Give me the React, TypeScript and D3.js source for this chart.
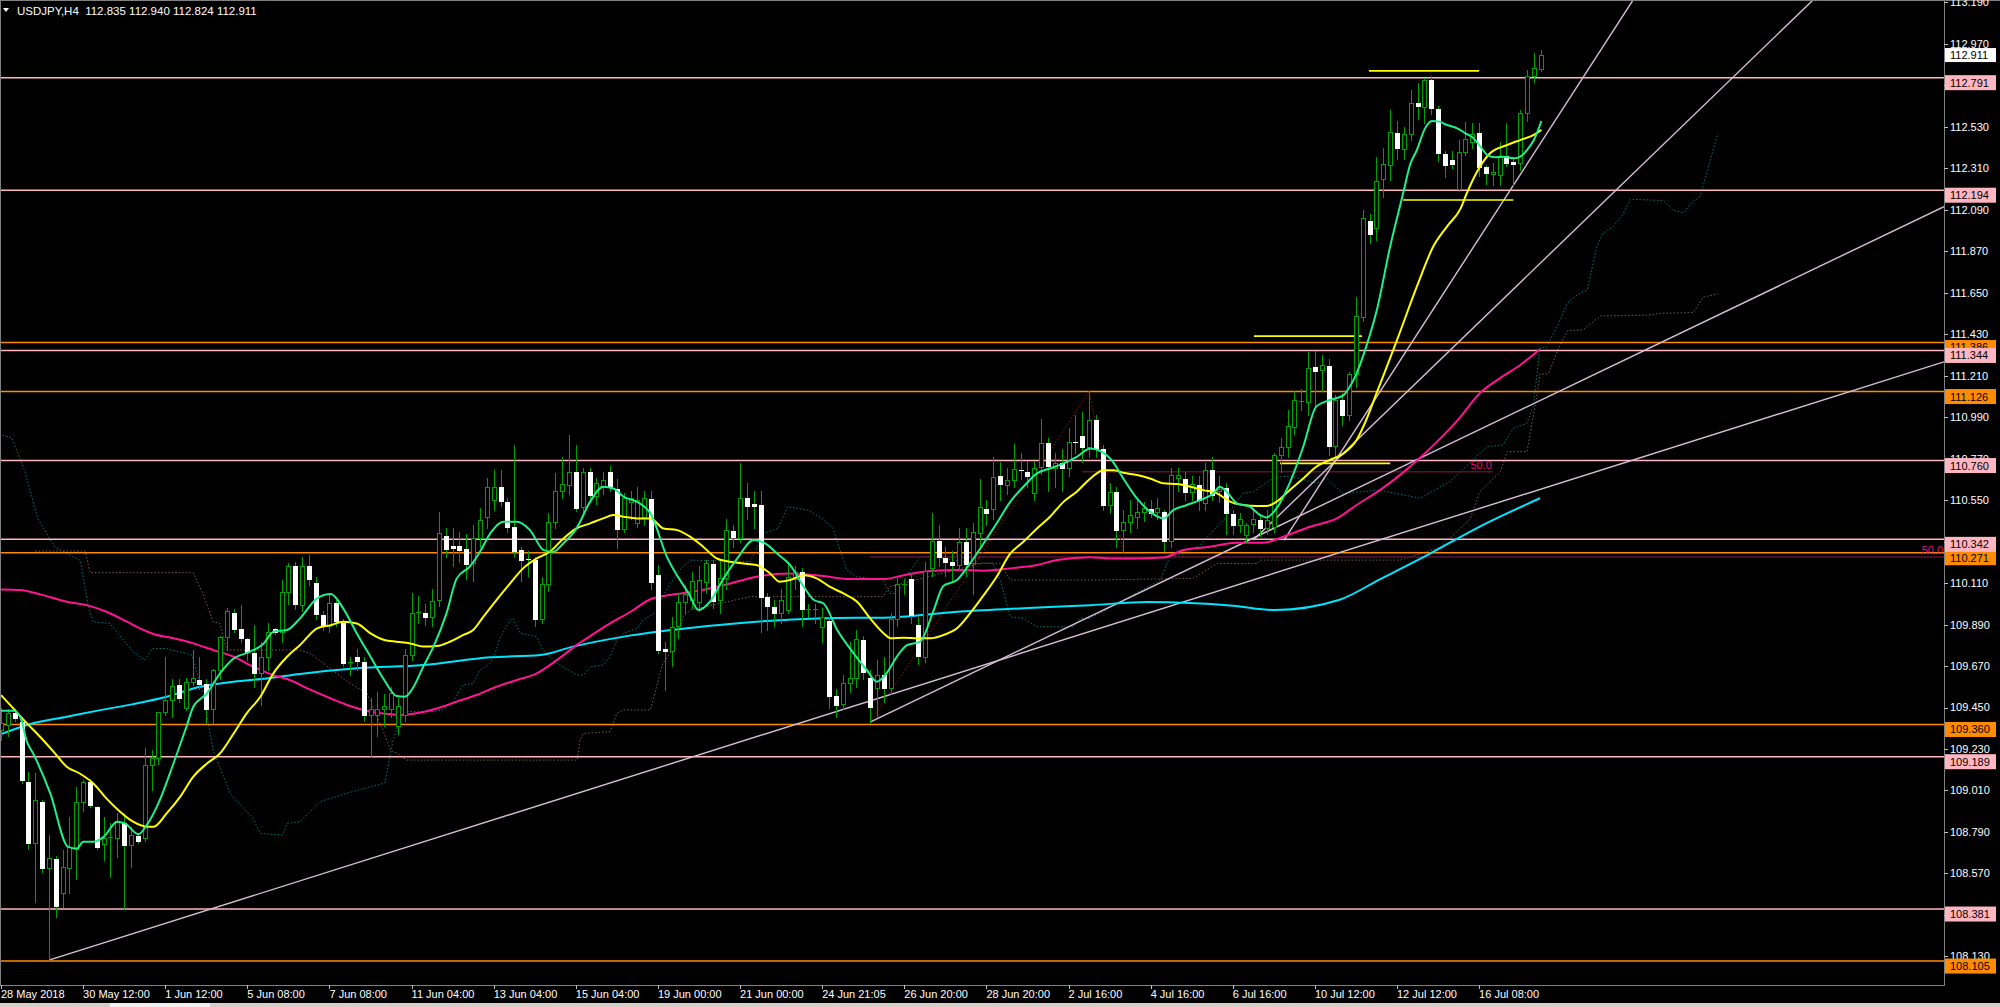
import React from 'react';
import * as d3 from 'd3';

const W = 2000;
const H = 1007;
const PLOT_R = 1944;
const PLOT_B = 985;

const opens = [
  109.33, 109.357, 109.419, 109.375, 109.056, 108.729, 108.95, 108.597, 108.646, 108.464,
  108.597, 108.7, 108.95, 109.056, 108.924, 108.726, 108.756, 108.756, 108.835, 108.72,
  108.77, 108.756, 109.145, 109.18, 109.428, 109.49, 109.569, 109.445, 109.587, 109.596,
  109.573, 109.442, 109.649, 109.822, 109.953, 109.866, 109.813, 109.737, 109.631, 109.716,
  109.864, 109.852, 110.064, 110.2, 109.994, 110.2, 110.108, 109.94, 109.884, 110.006,
  109.9, 109.69, 109.72, 109.693, 109.41, 109.41, 109.44, 109.44, 109.35, 109.41,
  109.728, 109.955, 109.953, 109.928, 110.02, 110.359, 110.308, 110.308, 110.289, 110.215,
  110.347, 110.462, 110.55, 110.621, 110.542, 110.406, 110.285, 110.236, 110.232, 109.917,
  110.103, 110.436, 110.596, 110.63, 110.697, 110.512, 110.697, 110.57, 110.627, 110.701,
  110.609, 110.397, 110.54, 110.43, 110.46, 110.556, 110.153, 109.758, 109.75, 109.881,
  110.01, 110.02, 110.011, 110.117, 110.209, 110.02, 110.135, 110.388, 110.347, 110.559,
  110.527, 110.524, 110.034, 109.985, 109.949, 109.967, 110.13, 110.167, 109.97, 109.97,
  109.878, 109.91, 109.511, 109.468, 109.578, 109.604, 109.808, 109.604, 109.551, 109.622,
  109.551, 109.917, 110.1, 110.131, 109.887, 109.719, 110.188, 110.333, 110.244, 110.223,
  110.206, 110.326, 110.214, 110.374, 110.501, 110.504, 110.678, 110.63, 110.657, 110.71,
  110.699, 110.586, 110.727, 110.851, 110.72, 110.745, 110.722, 110.86, 110.892, 110.833,
  110.975, 110.82, 110.524, 110.591, 110.391, 110.435, 110.462, 110.488, 110.501, 110.488,
  110.488, 110.335, 110.665, 110.662, 110.595, 110.63, 110.533, 110.71, 110.6, 110.616,
  110.477, 110.418, 110.365, 110.423, 110.444, 110.4, 110.409, 110.789, 110.83, 110.939,
  111.07, 111.072, 111.258, 111.24, 111.263, 110.837, 111.081, 111.001, 111.217, 111.523,
  112.031, 111.992, 112.252, 112.328, 112.496, 112.413, 112.491, 112.659, 112.637, 112.779,
  112.623, 112.386, 112.355, 112.199, 112.395, 112.45, 112.499, 112.316, 112.28, 112.275,
  112.376, 112.342, 112.337, 112.602, 112.8, 112.835,
];

const highs = [
  109.45, 109.44, 109.44, 109.4, 109.11, 109.1, 108.96, 108.773, 108.66, 108.694,
  108.871, 109.03, 109.065, 109.07, 108.93, 108.871, 108.835, 108.888, 108.888, 108.818,
  108.78, 109.233, 109.224, 109.428, 109.719, 109.6, 109.6, 109.604, 109.755, 109.719,
  109.6, 109.652, 109.83, 109.976, 109.97, 109.993, 109.82, 109.887, 109.799, 109.896,
  109.87, 110.126, 110.214, 110.22, 110.25, 110.26, 110.14, 109.96, 110.05, 110.02,
  109.92, 109.72, 109.76, 109.72, 109.5, 109.53, 109.52, 109.56, 109.5, 109.76,
  110.055, 110.04, 110.0, 110.08, 110.489, 110.4, 110.4, 110.38, 110.37, 110.42,
  110.51, 110.67, 110.71, 110.71, 110.56, 110.842, 110.3, 110.28, 110.25, 110.14,
  110.48, 110.692, 110.78, 110.895, 110.84, 110.72, 110.72, 110.67, 110.7, 110.73,
  110.66, 110.59, 110.6, 110.62, 110.6, 110.6, 110.206, 109.8, 109.93, 110.06,
  110.1, 110.17, 110.2, 110.23, 110.23, 110.24, 110.45, 110.42, 110.748, 110.64,
  110.6, 110.6, 110.06, 110.02, 110.08, 110.22, 110.2, 110.19, 110.0, 110.0,
  109.98, 109.93, 109.55, 109.62, 109.8, 109.86, 109.83, 109.65, 109.7, 109.72,
  109.95, 110.15, 110.13, 110.16, 109.93, 110.22, 110.48, 110.42, 110.3, 110.28,
  110.4, 110.4, 110.43, 110.66, 110.55, 110.78, 110.75, 110.72, 110.85, 110.8,
  110.76, 110.76, 110.98, 110.88, 110.8, 110.82, 110.93, 111.0, 111.02, 111.126,
  111.0, 110.84, 110.64, 110.62, 110.5, 110.55, 110.55, 110.54, 110.55, 110.56,
  110.5, 110.72, 110.72, 110.7, 110.68, 110.68, 110.745, 110.78, 110.68, 110.64,
  110.5, 110.48, 110.43, 110.5, 110.47, 110.5, 110.8, 110.88, 111.03, 111.13,
  111.14, 111.337, 111.34, 111.32, 111.3, 111.11, 111.12, 111.23, 111.629, 112.09,
  112.07, 112.372, 112.416, 112.62, 112.56, 112.53, 112.726, 112.765, 112.79, 112.8,
  112.64, 112.4, 112.4, 112.46, 112.558, 112.55, 112.55, 112.33, 112.34, 112.45,
  112.55, 112.36, 112.62, 112.83, 112.92, 112.94,
];

const lows = [
  109.28, 109.3, 109.38, 109.05, 108.7, 108.42, 108.58, 108.11, 108.34, 108.393,
  108.464, 108.54, 108.9, 108.92, 108.7, 108.641, 108.552, 108.658, 108.381, 108.605,
  108.73, 108.742, 109.012, 109.15, 109.41, 109.4, 109.48, 109.436, 109.57, 109.55,
  109.366, 109.366, 109.6, 109.755, 109.85, 109.8, 109.7, 109.56, 109.463, 109.65,
  109.84, 109.8, 110.0, 109.97, 109.96, 110.1, 109.92, 109.86, 109.85, 109.88,
  109.67, 109.62, 109.65, 109.38, 109.189, 109.3, 109.35, 109.4, 109.31, 109.38,
  109.7, 109.9, 109.89, 109.88, 109.99, 110.25, 110.2, 110.22, 110.13, 110.12,
  110.3, 110.4, 110.5, 110.52, 110.38, 110.25, 110.12, 110.15, 109.88, 109.9,
  110.07, 110.4, 110.56, 110.58, 110.49, 110.47, 110.56, 110.53, 110.58, 110.6,
  110.294, 110.38, 110.45, 110.41, 110.42, 110.08, 109.74, 109.543, 109.67, 109.82,
  109.95, 109.98, 109.96, 110.06, 109.98, 109.95, 110.08, 110.3, 110.33, 110.45,
  110.4, 109.85, 109.86, 109.88, 109.9, 109.95, 110.08, 109.88, 109.93, 109.9,
  109.8, 109.45, 109.4, 109.44, 109.53, 109.56, 109.6, 109.37, 109.4, 109.48,
  109.52, 109.88, 110.05, 109.9, 109.68, 109.69, 110.15, 110.2, 110.15, 110.12,
  110.18, 110.15, 110.05, 110.3, 110.42, 110.45, 110.55, 110.58, 110.62, 110.66,
  110.62, 110.55, 110.69, 110.6, 110.62, 110.6, 110.68, 110.8, 110.75, 110.78,
  110.78, 110.5, 110.48, 110.3, 110.276, 110.38, 110.4, 110.44, 110.46, 110.45,
  110.28, 110.3, 110.6, 110.55, 110.55, 110.5, 110.5, 110.55, 110.54, 110.373,
  110.37, 110.38, 110.33, 110.38, 110.36, 110.37, 110.38, 110.7, 110.78, 110.9,
  111.03, 111.0, 111.05, 111.13, 110.789, 110.78, 110.95, 110.975, 111.15, 111.5,
  111.912, 111.93, 112.16, 112.25, 112.36, 112.36, 112.46, 112.57, 112.55, 112.6,
  112.35, 112.266, 112.31, 112.19, 112.38, 112.42, 112.27, 112.227, 112.22, 112.22,
  112.32, 112.22, 112.3, 112.56, 112.77, 112.824,
];

const closes = [
  109.37, 109.419, 109.392, 109.065, 108.729, 108.959, 108.597, 108.65, 108.397, 108.602,
  108.708, 108.95, 109.056, 108.932, 108.708, 108.756, 108.764, 108.849, 108.72, 108.773,
  108.742, 109.145, 109.18, 109.428, 109.49, 109.566, 109.498, 109.587, 109.604, 109.574,
  109.442, 109.649, 109.822, 109.963, 109.866, 109.817, 109.746, 109.631, 109.716, 109.852,
  109.852, 110.064, 110.2, 109.999, 110.2, 110.131, 109.946, 109.884, 110.006, 109.909,
  109.688, 109.69, 109.695, 109.41, 109.44, 109.44, 109.46, 109.525, 109.457, 109.728,
  109.953, 109.956, 109.931, 110.015, 110.377, 110.291, 110.296, 110.285, 110.211, 110.347,
  110.444, 110.621, 110.62, 110.545, 110.409, 110.282, 110.232, 110.232, 109.919, 110.103,
  110.436, 110.598, 110.635, 110.697, 110.51, 110.697, 110.577, 110.64, 110.657, 110.627,
  110.397, 110.559, 110.56, 110.55, 110.559, 110.114, 109.755, 109.75, 109.878, 110.012,
  110.05, 110.12, 110.126, 110.214, 110.015, 110.135, 110.391, 110.352, 110.559, 110.52,
  110.52, 110.038, 109.988, 109.949, 110.02, 110.144, 110.17, 109.97, 109.975, 109.975,
  109.932, 109.511, 109.463, 109.581, 109.604, 109.811, 109.64, 109.454, 109.622, 109.551,
  109.917, 110.105, 110.105, 109.94, 109.723, 110.176, 110.333, 110.246, 110.22, 110.206,
  110.326, 110.211, 110.379, 110.511, 110.483, 110.674, 110.634, 110.657, 110.713, 110.702,
  110.679, 110.718, 110.851, 110.731, 110.745, 110.72, 110.86, 110.856, 110.833, 110.975,
  110.82, 110.524, 110.595, 110.391, 110.435, 110.47, 110.488, 110.506, 110.48, 110.506,
  110.335, 110.683, 110.683, 110.595, 110.635, 110.55, 110.71, 110.577, 110.61, 110.48,
  110.418, 110.448, 110.418, 110.448, 110.4, 110.444, 110.789, 110.83, 110.943, 111.081,
  111.078, 111.252, 111.237, 111.265, 110.837, 111.081, 111.001, 111.217, 111.527, 112.045,
  111.96, 112.245, 112.331, 112.501, 112.416, 112.491, 112.655, 112.643, 112.779, 112.628,
  112.39, 112.328, 112.334, 112.395, 112.464, 112.49, 112.319, 112.284, 112.29, 112.376,
  112.337, 112.334, 112.602, 112.8, 112.841, 112.911,
];

// Moving averages: [bar index, price]
const maGreen: [number, number][] = [
  [0, 109.433], [1.8, 109.433], [2.8, 109.401], [3.8, 109.268], [4.7, 109.206], [7.2, 108.994], [9.8, 108.711],
  [11.1, 108.702], [12, 108.738], [13.5, 108.738], [15, 108.764], [17, 108.844], [18.1, 108.835], [20.1, 108.778],
  [21.3, 108.826], [23.2, 108.959], [25.2, 109.153], [27.1, 109.348], [28.1, 109.454], [30.1, 109.525], [32, 109.631],
  [34, 109.71], [36.4, 109.746], [38.4, 109.79], [39.8, 109.852], [41.8, 109.861], [43.7, 109.923], [46.2, 110.029],
  [48.2, 110.052], [50, 109.976], [52, 109.843], [54, 109.719], [56, 109.596], [57.8, 109.511], [59, 109.507],
  [60.3, 109.56], [61.7, 109.666], [63.2, 109.773], [65.1, 109.949], [66.6, 110.135], [68.5, 110.197], [70, 110.276],
  [71.5, 110.374], [73.4, 110.436], [75.4, 110.436], [77.3, 110.391], [79.3, 110.285], [80.7, 110.276], [82.2, 110.321],
  [84.1, 110.4], [86.1, 110.542], [88, 110.621], [89.5, 110.612], [91, 110.568], [92.9, 110.542], [93.9, 110.519],
  [94.9, 110.48], [97.3, 110.25], [100.7, 110.042], [101.9, 109.967], [103.6, 110.011], [105.6, 110.135], [107.6, 110.241],
  [110, 110.338], [111.9, 110.315], [113.4, 110.267], [115.3, 110.206], [117.3, 110.091], [118.8, 110.02], [120.2, 110.002],
  [122.2, 109.861], [124.6, 109.737], [126.5, 109.649], [128, 109.587], [129.4, 109.631], [130.9, 109.719], [132.4, 109.781],
  [134.3, 109.799], [136.3, 109.967], [137.7, 110.094], [139.7, 110.126], [141.6, 110.214], [143.6, 110.321], [145.5, 110.427],
  [147.5, 110.542], [149.4, 110.621], [151.4, 110.692], [153.3, 110.718], [155.3, 110.745], [157.2, 110.78], [159.2, 110.824],
  [162.1, 110.771], [164, 110.665], [166, 110.559], [167.9, 110.489], [169.9, 110.453], [171.3, 110.497], [173.3, 110.524],
  [175.2, 110.55], [177.2, 110.586], [178.1, 110.621], [179.1, 110.595], [180.6, 110.533], [182.5, 110.515], [184, 110.471],
  [184.9, 110.458], [186.4, 110.506], [188.3, 110.639], [190.3, 110.833], [192.2, 111.046], [194.2, 111.081], [196.2, 111.107],
  [197.1, 111.152], [198.1, 111.222], [199.5, 111.364], [201, 111.55], [203, 111.895], [204.9, 112.178], [205.9, 112.328],
  [206.9, 112.407], [208.1, 112.522], [209.1, 112.561], [210.1, 112.558], [211.3, 112.54], [212.8, 112.522], [214, 112.496],
  [215.2, 112.469], [216.2, 112.425], [217.2, 112.381], [218.2, 112.369], [219.6, 112.372], [221.1, 112.363], [222, 112.372],
  [223, 112.407], [224, 112.46], [225.1, 112.561],
];

const maYellow: [number, number][] = [
  [0, 109.516], [1.8, 109.445], [3.8, 109.366], [5.7, 109.295], [7.7, 109.215], [9.6, 109.136], [11.5, 109.1],
  [13.5, 109.047], [15.4, 108.968], [17.4, 108.897], [19.3, 108.844], [21.3, 108.818], [22.3, 108.818], [24.2, 108.888],
  [26.2, 108.977], [28.1, 109.083], [30.1, 109.153], [32, 109.206], [34, 109.312], [35.9, 109.419], [37.9, 109.507],
  [39.8, 109.631], [41.8, 109.719], [43.7, 109.781], [46.2, 109.87], [48.2, 109.887], [50, 109.905], [52, 109.896],
  [54, 109.843], [56, 109.808], [57.8, 109.799], [59.8, 109.79], [61.7, 109.773], [63.7, 109.776], [65.6, 109.799],
  [67.5, 109.834], [69, 109.861], [70.5, 109.932], [72.4, 110.02], [74.4, 110.109], [76.3, 110.188], [78.3, 110.241],
  [80.2, 110.276], [82.2, 110.347], [84.1, 110.4], [86.1, 110.427], [88, 110.453], [89.5, 110.471], [91, 110.462],
  [92.9, 110.453], [94.9, 110.453], [96.8, 110.4], [98.8, 110.391], [100.7, 110.356], [102.6, 110.303], [104.6, 110.241],
  [106.5, 110.223], [108.5, 110.214], [110.4, 110.206], [112.4, 110.161], [113.8, 110.117], [115.3, 110.126], [117.3, 110.152],
  [119.2, 110.135], [121.1, 110.091], [123.1, 110.055], [125.1, 110.011], [127, 109.923], [129, 109.843], [130, 109.817],
  [131.9, 109.82], [133.9, 109.817], [135.8, 109.817], [137.7, 109.834], [139.7, 109.87], [141.6, 109.949], [143.6, 110.046],
  [145.5, 110.144], [147.5, 110.267], [149.4, 110.329], [151.4, 110.4], [153.3, 110.462], [155.3, 110.542], [157.2, 110.595],
  [159.2, 110.665], [161.1, 110.709], [162.6, 110.709], [164, 110.695], [166, 110.683], [167.9, 110.665], [169.9, 110.639],
  [171.8, 110.635], [173.8, 110.621], [175.7, 110.603], [177.7, 110.586], [179.6, 110.542], [181.6, 110.524], [183.5, 110.519],
  [185, 110.519], [186.4, 110.542], [188.3, 110.603], [190.3, 110.665], [192.2, 110.727], [194.2, 110.763], [196.2, 110.798],
  [198.1, 110.869], [199.5, 110.975], [201, 111.116], [204, 111.399], [206.9, 111.682], [209.3, 111.895], [211.3, 112.001],
  [213.3, 112.098], [214.2, 112.178], [215.7, 112.292], [217.6, 112.39], [220.1, 112.434], [222, 112.46], [224, 112.487],
  [225.1, 112.514],
];

const maMagenta: [number, number][] = [
  [0, 110.076], [2.8, 110.073], [5.7, 110.05], [9.6, 110.011], [12.5, 109.993], [15.4, 109.958], [18.4, 109.905],
  [20.3, 109.87], [22.3, 109.84], [25.2, 109.817], [28.1, 109.79], [31, 109.755], [34, 109.719], [36.9, 109.666],
  [39.8, 109.622], [42.2, 109.596], [45.1, 109.546], [48.2, 109.498], [51, 109.458], [54, 109.428], [56.9, 109.415],
  [58.3, 109.41], [60.7, 109.419], [63.7, 109.445], [66.6, 109.481], [69.5, 109.516], [72.4, 109.56], [75.4, 109.596],
  [78.3, 109.631], [80.2, 109.675], [82.2, 109.728], [84.1, 109.781], [86.1, 109.829], [89, 109.896], [92, 109.958],
  [94.9, 110.024], [97.8, 110.047], [100.7, 110.062], [105.6, 110.099], [110.4, 110.144], [115.3, 110.161], [120.2, 110.147],
  [124.1, 110.131], [129, 110.131], [131.9, 110.152], [135.8, 110.174], [139.7, 110.179], [143.6, 110.176], [147.5, 110.188],
  [151.4, 110.206], [154.3, 110.232], [159.2, 110.247], [162.1, 110.241], [165, 110.241], [169.9, 110.246], [172.8, 110.285],
  [176.7, 110.303], [180.6, 110.324], [184.5, 110.324], [187.4, 110.356], [191.3, 110.409], [195.2, 110.453], [198.1, 110.524],
  [201.5, 110.603], [205, 110.7], [209, 110.83], [213, 110.98], [216.1, 111.117], [219, 111.196], [222, 111.267],
  [224.9, 111.35],
];

const maCyan: [number, number][] = [
  [0, 109.309], [4.7, 109.366], [9.6, 109.401], [14.5, 109.436], [19.3, 109.468], [24.2, 109.507], [29.1, 109.56],
  [34, 109.587], [38.8, 109.604], [43.7, 109.628], [52, 109.658], [61.7, 109.675], [71.5, 109.716], [78.8, 109.728],
  [83.6, 109.773], [91, 109.826], [100.7, 109.872], [110.4, 109.905], [120.2, 109.923], [129.9, 109.928], [139.7, 109.958],
  [149.4, 109.976], [159.2, 109.993], [167.6, 110.009], [180, 109.99], [186.2, 109.967], [195.5, 110.02], [201.5, 110.13],
  [208, 110.25], [216.1, 110.41], [224.9, 110.56],
];

// Ichimoku cloud edges (dotted), shifted forward 26 bars: [bar, price]
const spanA: [number, number][] = [
  [-0.2, 110.9], [1.6, 110.88], [3.5, 110.7], [5.4, 110.45], [7.9, 110.3], [11.6, 110.23], [12.7, 109.998],
  [13.4, 109.905], [15.9, 109.896], [19.3, 109.746], [21, 109.702], [22.1, 109.763], [24.3, 109.763], [27.9, 109.728],
  [29.5, 109.525], [31, 109.224], [33.5, 108.994], [36.8, 108.862], [37.9, 108.782], [41.1, 108.773], [41.8, 108.835],
  [43.7, 108.844], [46.6, 108.95], [51, 109.0], [56.1, 109.05], [57.3, 109.277], [58.3, 109.383], [59, 109.428],
  [62.7, 109.428], [64.6, 109.437], [66.1, 109.481], [67.5, 109.569], [69, 109.578], [70, 109.649], [71.5, 109.684],
  [72.2, 109.737], [72.9, 109.817], [74.4, 109.914], [74.8, 109.923], [75.9, 109.843], [77.3, 109.834], [78.3, 109.826],
  [79.2, 109.755], [81.3, 109.684], [84.2, 109.622], [85.1, 109.622], [86.1, 109.666], [88, 109.675], [89, 109.719],
  [90, 109.808], [90.9, 109.843], [93, 109.87], [93.8, 109.914], [95.9, 109.958], [96.7, 110.038], [97.8, 110.108],
  [99.2, 110.179], [100.7, 110.232], [109.5, 110.223], [111.4, 110.374], [113.6, 110.4], [114.9, 110.515], [117.9, 110.497],
  [120, 110.453], [121.6, 110.4], [122.6, 110.285], [123.6, 110.179], [125.1, 110.144], [128.9, 110.126], [129.9, 110.055],
  [131.1, 110.055], [132.4, 110.152], [134.3, 110.25], [136.2, 110.25], [142.1, 110.214], [145, 110.214], [146, 110.126],
  [147.5, 109.931], [149.4, 109.923], [151.4, 109.878], [156.7, 109.878], [157.7, 109.923], [159.2, 109.923], [169.4, 110.126],
  [170.8, 110.25], [173.3, 110.267], [175.2, 110.312], [178.6, 110.444], [181.5, 110.586], [183, 110.595], [185.5, 110.657],
  [186.9, 110.674], [188.4, 110.678], [192.3, 110.639], [193.8, 110.665], [194.7, 110.63], [196.1, 110.586], [201.5, 110.603],
  [207.4, 110.56], [211.8, 110.65], [216.1, 110.799], [217.2, 110.834], [219.5, 110.843], [221, 110.931], [223, 110.958],
  [223.9, 111.046], [224.9, 111.356], [225.9, 111.364], [227.4, 111.471], [228.9, 111.594], [230.3, 111.638], [231.8, 111.665],
  [233.2, 111.895], [234.1, 111.966], [235.6, 112.001], [237, 112.063], [238.1, 112.146], [242.9, 112.139], [244.4, 112.089],
  [245.8, 112.075], [247.3, 112.134], [248.3, 112.16], [250.2, 112.408], [250.9, 112.496],
];

const spanB: [number, number][] = [
  [5, 110.28], [12.3, 110.28], [12.6, 110.232], [13, 110.165], [28.1, 110.165], [29.5, 110.055], [31, 109.905],
  [32, 109.896], [33, 109.755], [43.7, 109.755], [45.2, 109.737], [51, 109.578], [53.5, 109.525], [55.8, 109.331],
  [56.9, 109.224], [57.9, 109.207], [59.3, 109.171], [84.2, 109.171], [84.6, 109.277], [85.1, 109.313], [89, 109.322],
  [90, 109.419], [90.9, 109.437], [94.9, 109.437], [95.3, 109.49], [96.3, 109.631], [96.7, 109.684], [97.8, 109.737],
  [98.8, 109.826], [99.7, 109.932], [100.7, 109.967], [109.5, 110.038], [128.9, 110.038], [129.9, 110.091], [143.5, 110.218],
  [146, 110.214], [147.5, 110.126], [159.2, 110.126], [174.2, 110.135], [177.7, 110.214], [183.6, 110.214], [184, 110.232],
  [204.5, 110.232], [210.3, 110.3], [214.7, 110.45], [216.1, 110.595], [219.1, 110.701], [220.1, 110.807], [223, 110.807],
  [224.5, 111.117], [224.9, 111.219], [226.1, 111.219], [227.4, 111.338], [228.9, 111.448], [231.2, 111.453], [233.7, 111.527],
  [241, 111.532], [242.4, 111.541], [247.3, 111.545], [248.7, 111.626], [250.9, 111.644],
];

const pinkLevels = [112.791, 112.194, 111.344, 110.76, 110.342, 109.189, 108.381];
const orangeLevels = [111.386, 111.126, 110.271, 109.36, 108.105];
const lastPrice = 112.911;

const yTickValues = [
  113.19, 112.97, 112.75, 112.53, 112.31, 112.09, 111.87, 111.65, 111.43, 111.21, 110.99, 110.77,
  110.55, 110.33, 110.11, 109.89, 109.67, 109.45, 109.23, 109.01, 108.79, 108.57, 108.35, 108.13,
];

const timeLabels = [
  '28 May 2018', '30 May 12:00', '1 Jun 12:00', '5 Jun 08:00', '7 Jun 08:00', '11 Jun 04:00', '13 Jun 04:00',
  '15 Jun 04:00', '19 Jun 00:00', '21 Jun 00:00', '24 Jun 21:05', '26 Jun 20:00', '28 Jun 20:00', '2 Jul 16:00',
  '4 Jul 16:00', '6 Jul 16:00', '10 Jul 12:00', '12 Jul 12:00', '16 Jul 08:00',
];
const timeLabelBars = [0, 12, 24, 36, 48, 60, 72, 84, 96, 108, 120, 132, 144, 156, 168, 180, 192, 204, 216];

// Trendlines (rays to the right): [bar1, price1, bar2, price2]
const trendLines: [number, number, number, number][] = [
  [7, 108.11, 283.95, 111.284],
  [127, 109.373, 283.95, 112.107],
  [183, 110.338, 264.8, 113.203],
  [187.5, 110.338, 238.5, 113.203],
];

// Yellow horizontal segments: [bar start, bar end, price]
const yellowSegments: [number, number, number][] = [
  [183.1, 198.9, 111.42],
  [199.9, 216.0, 112.827],
  [204.9, 221.0, 112.142],
  [186.9, 203.0, 110.745],
];

// Fibonacci retracements: [bar1, price1, bar2, price2, level line start bar, level line end bar]
const fibs: [number, number, number, number, number, number][] = [
  [127, 109.37, 159, 111.126, 127, 283.95],
  [159, 111.126, 164, 110.276, 158, 218],
];

const header = 'USDJPY,H4  112.835 112.940 112.824 112.911';

const x = d3.scaleLinear().domain([0, 225]).range([1, 1540.7]);
const y = d3.scaleLinear().domain([107.978, 113.203]).range([PLOT_B, 0]);

const FONT = "'Liberation Sans', Arial, sans-serif";
const WICK = '#00a000';

const maLine = d3
  .line<[number, number]>()
  .x((d) => x(d[0]))
  .y((d) => y(d[1]))
  .curve(d3.curveMonotoneX);
const stepLine = d3
  .line<[number, number]>()
  .x((d) => x(d[0]))
  .y((d) => y(d[1]));

const px = (v: number) => Math.round(v) + 0.5;

export default function App() {
  const candles = opens.map((o, i) => {
    const c = closes[i];
    const cx = Math.round(x(i));
    const bull = c >= o;
    const yt = Math.round(y(Math.max(o, c)));
    const yb = Math.round(y(Math.min(o, c)));
    const hh = Math.max(1, yb - yt);
    return (
      <g key={i}>
        <line x1={cx + 0.5} x2={cx + 0.5} y1={Math.round(y(highs[i]))} y2={Math.round(y(lows[i])) + 1} stroke={WICK} strokeWidth={1} />
        {hh <= 1 ? (
          <line x1={cx - 2} x2={cx + 3} y1={yt + 0.5} y2={yt + 0.5} stroke={bull ? WICK : '#ffffff'} strokeWidth={1} />
        ) : bull ? (
          <rect x={cx - 1.5} y={yt + 0.5} width={4} height={hh} fill="#000" stroke={WICK} strokeWidth={1} />
        ) : (
          <rect x={cx - 2} y={yt} width={5} height={hh + 1} fill="#ffffff" />
        )}
      </g>
    );
  });

  const tl = trendLines.map((t, i) => {
    const x1 = x(t[0]);
    const y1 = y(t[1]);
    const x2 = x(t[2]);
    const y2 = y(t[3]);
    const slope = (y2 - y1) / (x2 - x1);
    const xe = PLOT_R;
    const ye = y1 + slope * (xe - x1);
    return <line key={i} x1={x1} y1={y1} x2={xe} y2={ye} stroke="#d8bfd8" strokeWidth={1.4} />;
  });

  return (
    <svg
      width={W}
      height={H}
      style={{ position: 'absolute', left: 0, top: 0, background: '#000', display: 'block' }}
      fontFamily={FONT}
    >
      <defs>
        <clipPath id="plot">
          <rect x={0} y={0} width={PLOT_R} height={PLOT_B} />
        </clipPath>
      </defs>
      <rect x={0} y={0} width={W} height={H} fill="#000" />

      <g clipPath="url(#plot)">
        {/* Ichimoku cloud edges */}
        <path d={stepLine(spanA) || ''} fill="none" stroke="#007a7a" strokeWidth={1} strokeDasharray="1.5,2" />
        <path d={stepLine(spanB) || ''} fill="none" stroke="#7a5a5a" strokeWidth={1} strokeDasharray="1.5,2" />

        {/* horizontal levels */}
        {orangeLevels.map((v, i) => (
          <line key={'o' + i} x1={0} x2={PLOT_R} y1={y(v)} y2={y(v)} stroke="#ff8c00" strokeWidth={1.5} />
        ))}
        {pinkLevels.map((v, i) => (
          <line key={'p' + i} x1={0} x2={PLOT_R} y1={y(v)} y2={y(v)} stroke="#ffb6c1" strokeWidth={1.5} />
        ))}

        {/* fibonacci */}
        {fibs.map((f, i) => {
          const mid = (f[1] + f[3]) / 2;
          const xe = x(f[5]);
          return (
            <g key={'f' + i}>
              <line x1={x(f[0])} y1={y(f[1])} x2={x(f[2])} y2={y(f[3])} stroke="#a01010" strokeWidth={1} strokeDasharray="1.5,2" />
              <line x1={x(f[4])} x2={xe} y1={y(mid)} y2={y(mid)} stroke="#5c1030" strokeWidth={1.5} />
              <text x={xe - 1} y={y(mid) - 3} fill="#e0107a" fontSize={11} textAnchor="end">
                50.0
              </text>
            </g>
          );
        })}

        {/* trend lines */}
        {tl}

        {/* yellow segments */}
        {yellowSegments.map((s, i) => (
          <line key={'y' + i} x1={x(s[0])} x2={x(s[1])} y1={y(s[2])} y2={y(s[2])} stroke="#ffff00" strokeWidth={1.6} />
        ))}

        {/* moving averages */}
        <path d={maLine(maCyan) || ''} fill="none" stroke="#00e5ff" strokeWidth={2} />
        <path d={maLine(maMagenta) || ''} fill="none" stroke="#ff1493" strokeWidth={2} />

        {candles}

        <path d={maLine(maYellow) || ''} fill="none" stroke="#ffff00" strokeWidth={2} />
        <path d={maLine(maGreen) || ''} fill="none" stroke="#1ef08c" strokeWidth={2} />
      </g>

      {/* frame */}
      <line x1={0} x2={W} y1={0.5} y2={0.5} stroke="#808080" />
      <line x1={0.5} x2={0.5} y1={0} y2={PLOT_B} stroke="#808080" />
      <line x1={PLOT_R + 0.5} x2={PLOT_R + 0.5} y1={0} y2={PLOT_B + 0.5} stroke="#808080" />
      <line x1={0} x2={PLOT_R + 0.5} y1={PLOT_B + 0.5} y2={PLOT_B + 0.5} stroke="#808080" />

      {/* price axis */}
      {yTickValues.map((v, i) => (
        <g key={'t' + i}>
          <line x1={PLOT_R} x2={PLOT_R + 4} y1={px(y(v))} y2={px(y(v))} stroke="#c0c0c0" />
          <text x={1950} y={y(v)} dy="0.36em" fill="#ffffff" fontSize={11}>
            {v.toFixed(3)}
          </text>
        </g>
      ))}
      {orangeLevels.map((v, i) => (
        <g key={'ol' + i}>
          <rect x={1945} y={y(v) - 2.5} width={51} height={15} fill="#ff8c00" />
          <text x={1950} y={y(v) + 5} dy="0.36em" fill="#000" fontSize={11}>
            {v.toFixed(3)}
          </text>
        </g>
      ))}
      {pinkLevels.map((v, i) => (
        <g key={'pl' + i}>
          <rect x={1945} y={y(v) - 2.5} width={51} height={15} fill="#ffb6c1" />
          <text x={1950} y={y(v) + 5} dy="0.36em" fill="#000" fontSize={11}>
            {v.toFixed(3)}
          </text>
        </g>
      ))}
      <rect x={1945} y={y(lastPrice) - 7} width={51} height={14} fill="#ffffff" />
      <text x={1950} y={y(lastPrice)} dy="0.36em" fill="#000" fontSize={11}>
        {lastPrice.toFixed(3)}
      </text>

      {/* time axis */}
      {timeLabelBars.map((b, i) => (
        <g key={'x' + i}>
          <line x1={px(x(b))} x2={px(x(b))} y1={PLOT_B} y2={PLOT_B + 4} stroke="#c0c0c0" />
          <text x={x(b)} y={998} fill="#ffffff" fontSize={11}>
            {timeLabels[i]}
          </text>
        </g>
      ))}

      {/* bottom tab strip */}
      <rect x={0} y={1003} width={W} height={4} fill="#d4d0c8" />
      <rect x={110} y={1003} width={100} height={4} fill="#f0f0f0" />

      {/* header */}
      <path d="M3,8 L9,8 L6,12 Z" fill="#ffffff" />
      <text x={17} y={14.5} fill="#ffffff" fontSize={11.5} style={{ whiteSpace: 'pre' }}>
        {header}
      </text>
    </svg>
  );
}
